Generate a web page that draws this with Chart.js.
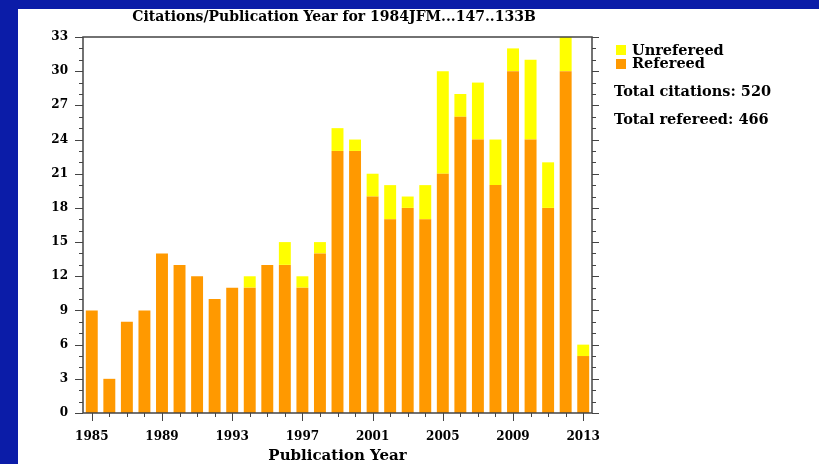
<!DOCTYPE html>
<html>
<head>
<meta charset="utf-8">
<script src="https://cdn.jsdelivr.net/npm/chart.js@4"></script>
<style>
  html, body { margin: 0; padding: 0; }
  body { background: #0b1ca8; width: 819px; height: 464px; overflow: hidden; position: relative; }
  #panel { position: absolute; left: 18px; top: 9px; width: 801px; height: 455px; background: #fff; }
</style>
</head>
<body>
<div id="panel"><canvas id="citeChart" width="801" height="455"></canvas></div>
<script>
const years = ["1985","1986","1987","1988","1989","1990","1991","1992","1993","1994",
               "1995","1996","1997","1998","1999","2000","2001","2002","2003","2004",
               "2005","2006","2007","2008","2009","2010","2011","2012","2013"];
const refereed   = [9, 3, 8, 9, 14, 13, 12, 10, 11, 11, 13, 13, 11, 14, 23, 23, 19, 17, 18, 17, 21, 26, 24, 20, 30, 24, 18, 30, 5];
const unrefereed = [0, 0, 0, 0, 0, 0, 0, 0, 0, 1, 0, 2, 1, 1, 2, 1, 2, 3, 1, 3, 9, 2, 5, 4, 2, 7, 4, 3, 1];
const yMax = 33;
const yStep = 3;

const chartTitle = "Citations/Publication Year for 1984JFM...147..133B";
const xTitle = "Publication Year";

const FONT = "'DejaVu Serif', 'Liberation Serif', serif";
const ORANGE = "#ff9900";
const YELLOW = "#ffff00";

const totalRefereed = refereed.reduce((a, b) => a + b, 0);
const totalCitations = totalRefereed + unrefereed.reduce((a, b) => a + b, 0);

// frame, minor ticks, titles and the legend box on the right
const decorations = {
    id: "decorations",
    afterDraw(chart) {
        const ctx = chart.ctx;
        const area = chart.chartArea;
        const xs = chart.scales.x;
        const ys = chart.scales.y;
        ctx.save();
        ctx.strokeStyle = "#444";
        ctx.lineWidth = 1.5;
        ctx.strokeRect(area.left, area.top, area.right - area.left, area.bottom - area.top);

        ctx.lineWidth = 1;
        ctx.beginPath();
        for (let v = 0; v <= yMax; v++) {
            const y = Math.round(ys.getPixelForValue(v)) + 0.5;
            const major = v % yStep === 0;
            ctx.moveTo(area.left - (major ? 8 : 4), y);
            ctx.lineTo(area.left, y);
            ctx.moveTo(area.right, y);
            ctx.lineTo(area.right + (major ? 7 : 4), y);
        }
        years.forEach((yr, i) => {
            const x = Math.round(xs.getPixelForValue(i)) + 0.5;
            const major = (parseInt(yr) - 1985) % 4 === 0;
            ctx.moveTo(x, area.bottom);
            ctx.lineTo(x, area.bottom + (major ? 8 : 4));
        });
        ctx.stroke();

        ctx.fillStyle = "#000";
        ctx.textBaseline = "middle";
        ctx.textAlign = "center";
        ctx.font = "bold 14px " + FONT;
        ctx.fillText(chartTitle, 316, 8);
        ctx.font = "bold 15px " + FONT;
        ctx.fillText(xTitle, (area.left + area.right) / 2, 447);

        ctx.textAlign = "left";
        ctx.fillStyle = YELLOW;
        ctx.fillRect(598, 36, 10, 10);
        ctx.fillStyle = ORANGE;
        ctx.fillRect(598, 50, 10, 10);
        ctx.fillStyle = "#000";
        ctx.font = "bold 14.5px " + FONT;
        ctx.fillText("Unrefereed", 614, 42);
        ctx.fillText("Refereed", 614, 55);
        ctx.fillText("Total citations: " + totalCitations, 596, 83);
        ctx.fillText("Total refereed: " + totalRefereed, 596, 111);
        ctx.restore();
    }
};

Chart.defaults.font.family = FONT;
Chart.defaults.font.weight = "bold";
Chart.defaults.font.size = 12;
Chart.defaults.color = "#000";

new Chart(document.getElementById("citeChart"), {
    type: "bar",
    data: {
        labels: years,
        datasets: [
            { label: "Refereed", data: refereed, backgroundColor: ORANGE, borderWidth: 0 },
            { label: "Unrefereed", data: unrefereed, backgroundColor: YELLOW, borderWidth: 0 }
        ]
    },
    options: {
        responsive: false,
        animation: false,
        devicePixelRatio: 1,
        layout: { padding: { top: 28, right: 227, left: 0, bottom: 0 } },
        datasets: { bar: { barPercentage: 0.68, categoryPercentage: 1.0 } },
        plugins: { legend: { display: false }, title: { display: false }, tooltip: { enabled: false } },
        scales: {
            x: {
                stacked: true,
                offset: true,
                grid: { display: false },
                border: { display: false },
                ticks: {
                    autoSkip: false,
                    maxRotation: 0,
                    padding: 9,
                    callback: (v, i) => (parseInt(years[i]) - 1985) % 4 === 0 ? years[i] : ""
                },
                afterFit: s => { s.height = 51; }
            },
            y: {
                stacked: true,
                min: 0,
                max: yMax,
                grid: { display: false },
                border: { display: false },
                ticks: { stepSize: yStep, padding: 7 },
                afterFit: s => { s.width = 65; }
            }
        }
    },
    plugins: [decorations]
});
</script>
</body>
</html>
